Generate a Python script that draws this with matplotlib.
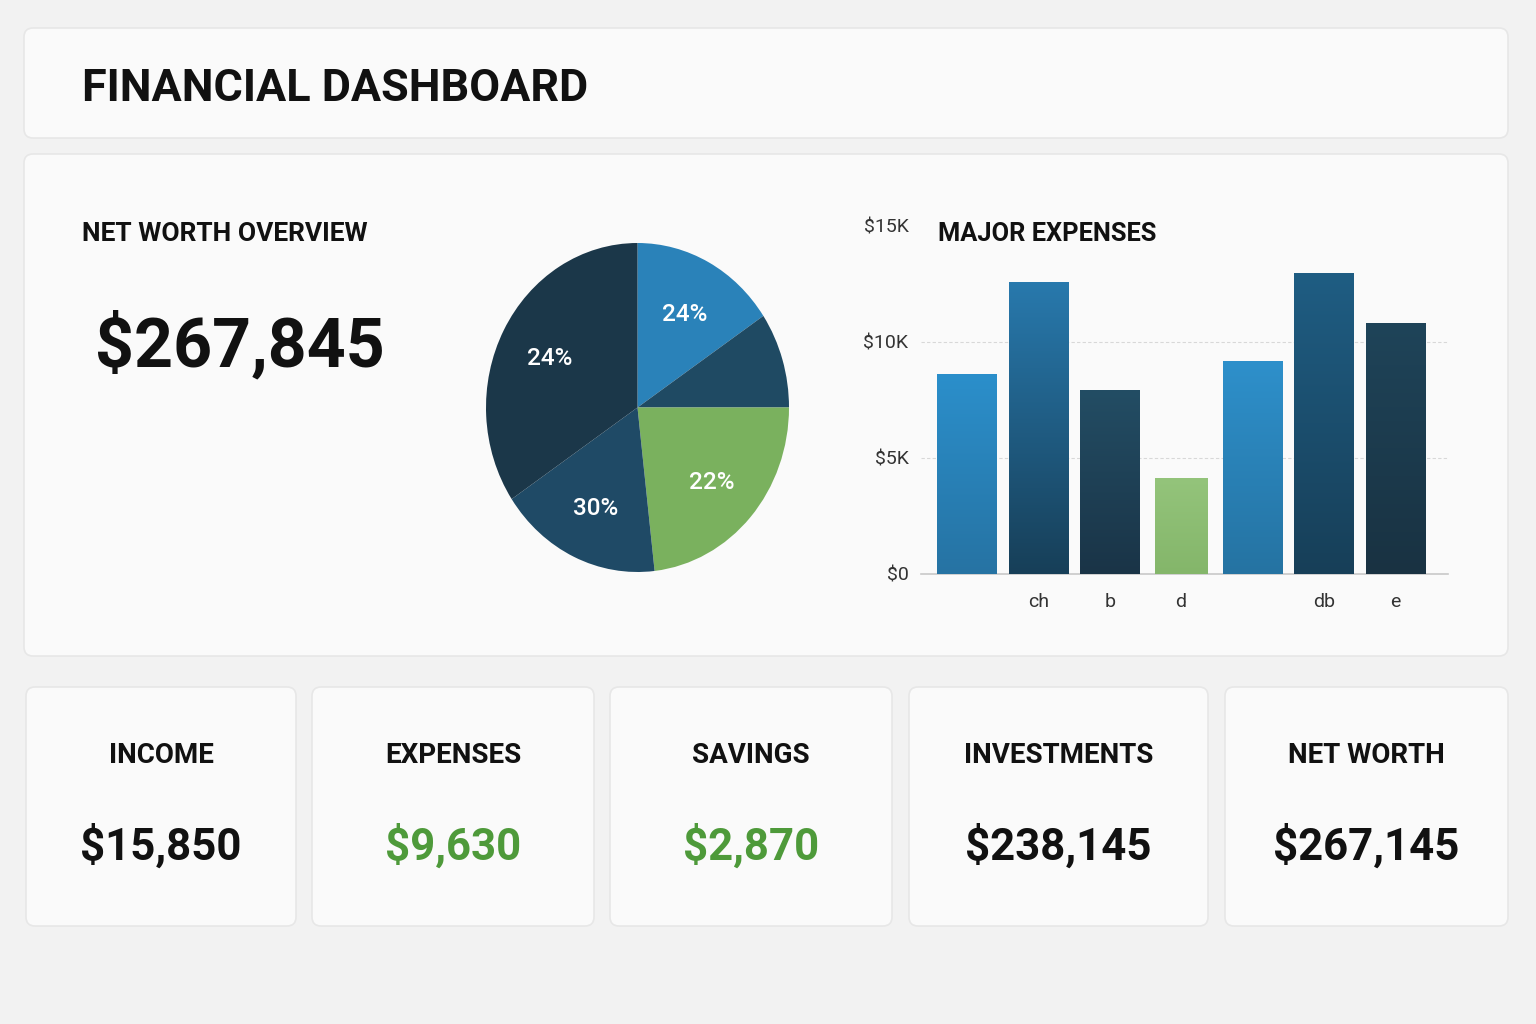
import numpy as np
import matplotlib.pyplot as plt
from matplotlib.patches import FancyBboxPatch
from matplotlib.colors import LinearSegmentedColormap

plt.rcParams['font.family'] = ['Roboto', 'DejaVu Sans']

# ---- data ----
dashboard_title = 'FINANCIAL DASHBOARD'
net_worth_total = '$267,845'

pie_shares = [15.6, 9.4, 23.2, 17.4, 34.4]
pie_labels = ['24%', '', '22%', '30%', '24%']

expense_cats = ['', 'ch', 'b', 'd', '', 'db', 'e']
expense_vals = [8600, 12550, 7900, 4100, 9150, 12950, 10800]
y_ticks = [0, 5000, 10000, 15000]
y_tick_labels = ['$0', '$5K', '$10K', '$15K']

card_titles = ['INCOME', 'EXPENSES', 'SAVINGS', 'INVESTMENTS', 'NET WORTH']
card_values = ['$15,850', '$9,630', '$2,870', '$238,145', '$267,145']

# ---- styles ----
bg_col = '#f2f2f2'
card_col = '#fafafa'
edge_col = '#e7e7e7'
txt_col = '#111111'
green_txt = '#4e9a3a'
pie_colors = ['#2a82b9', '#1f4a63', '#7ab15e', '#1f4a66', '#1b3749']
bar_grad = [('#2b8fcb', '#2673a3'),
            ('#2879ad', '#173f58'),
            ('#234d64', '#1a3447'),
            ('#94c47b', '#84b66a'),
            ('#2e90cb', '#2573a2'),
            ('#1f5d83', '#173f58'),
            ('#1f4459', '#193242')]
bar_w = [0.83, 0.83, 0.83, 0.73, 0.83, 0.83, 0.83]
value_cols = [txt_col, green_txt, green_txt, txt_col, txt_col]

fig = plt.figure(figsize=(15.36, 10.24), dpi=100, facecolor=bg_col)

# background layer in pixel coords (y down)
bg = fig.add_axes([0, 0, 1, 1])
bg.set_xlim(0, 1536)
bg.set_ylim(1024, 0)
bg.axis('off')
bg.set_zorder(0)


def card(x0, y0, x1, y1):
    p = FancyBboxPatch((x0, y0), x1 - x0, y1 - y0,
                       boxstyle='round,pad=0,rounding_size=9',
                       facecolor=card_col, edgecolor=edge_col, lw=1.2)
    bg.add_patch(p)


card(24, 28, 1508, 138)
card(24, 154, 1508, 656)
card_boxes = [(26, 296), (312, 594), (610, 892), (909, 1208), (1225, 1508)]
for (cx0, cx1) in card_boxes:
    card(cx0, 687, cx1, 926)

bg.text(82, 101, dashboard_title, fontsize=32.3, fontweight='bold',
        color=txt_col, va='baseline', ha='left')
bg.text(82, 241, 'NET WORTH OVERVIEW', fontsize=19, fontweight='bold',
        color=txt_col, va='baseline', ha='left')
bg.text(95, 366, net_worth_total, fontsize=49, fontweight='bold',
        color=txt_col, va='baseline', ha='left')
bg.text(938, 241, 'MAJOR EXPENSES', fontsize=18.3, fontweight='bold',
        color=txt_col, va='baseline', ha='left')

for (cx0, cx1), t, v, c in zip(card_boxes, card_titles, card_values, value_cols):
    xc = (cx0 + cx1) / 2
    bg.text(xc, 763, t, fontsize=20, fontweight='bold', color=txt_col,
            ha='center', va='baseline')
    bg.text(xc, 860, v, fontsize=31.5, fontweight='bold', color=c,
            ha='center', va='baseline')

# ---- pie ----
pax = fig.add_axes([486 / 1536, 1 - 572 / 1024, 303 / 1536, 329 / 1024])
pax.set_zorder(2)
wedges, texts = pax.pie(pie_shares, labels=pie_labels, colors=pie_colors,
                        startangle=90, counterclock=False, labeldistance=0.66,
                        wedgeprops=dict(linewidth=0),
                        textprops=dict(color='white', fontsize=17.5, fontweight='medium'))
for t in texts:
    t.set_ha('center')
    t.set_va('center_baseline')
pax.set_aspect('auto')
pax.set_xlim(-1, 1)
pax.set_ylim(-1, 1)

# ---- bars ----
bax = fig.add_axes([921 / 1536, 1 - 574 / 1024, 527 / 1536, 348 / 1024])
bax.set_zorder(2)
bax.set_facecolor('none')
xs = np.arange(len(expense_vals))
bars = bax.bar(xs, expense_vals, width=bar_w, color='none', zorder=3)
grad = np.linspace(1, 0, 256).reshape(-1, 1)
for b, (ctop, cbot) in zip(bars, bar_grad):
    cmap = LinearSegmentedColormap.from_list('g', [cbot, ctop])
    x0 = b.get_x()
    bax.imshow(grad, extent=(x0, x0 + b.get_width(), 0, b.get_height()),
               cmap=cmap, aspect='auto', origin='upper', zorder=3)

bax.set_xlim(-0.645, 6.74)
bax.set_ylim(0, 15000)
bax.set_yticks(y_ticks)
bax.set_yticklabels(y_tick_labels)
bax.set_xticks(xs)
bax.set_xticklabels(expense_cats)
bax.tick_params(axis='both', length=0, labelsize=14, colors='#333333')
bax.tick_params(axis='y', pad=9)
bax.tick_params(axis='x', pad=14)
for s in ['top', 'right', 'left']:
    bax.spines[s].set_visible(False)
bax.spines['bottom'].set_color('#c8c8c8')
bax.spines['bottom'].set_linewidth(1.2)
bax.yaxis.grid(True, color='#d8d8d8', linestyle=(0, (3, 2)), linewidth=0.8)
bax.set_axisbelow(True)
gl = bax.get_ygridlines()
gl[0].set_visible(False)
gl[-1].set_visible(False)

fig.savefig('out.png', dpi=100, facecolor=bg_col)
